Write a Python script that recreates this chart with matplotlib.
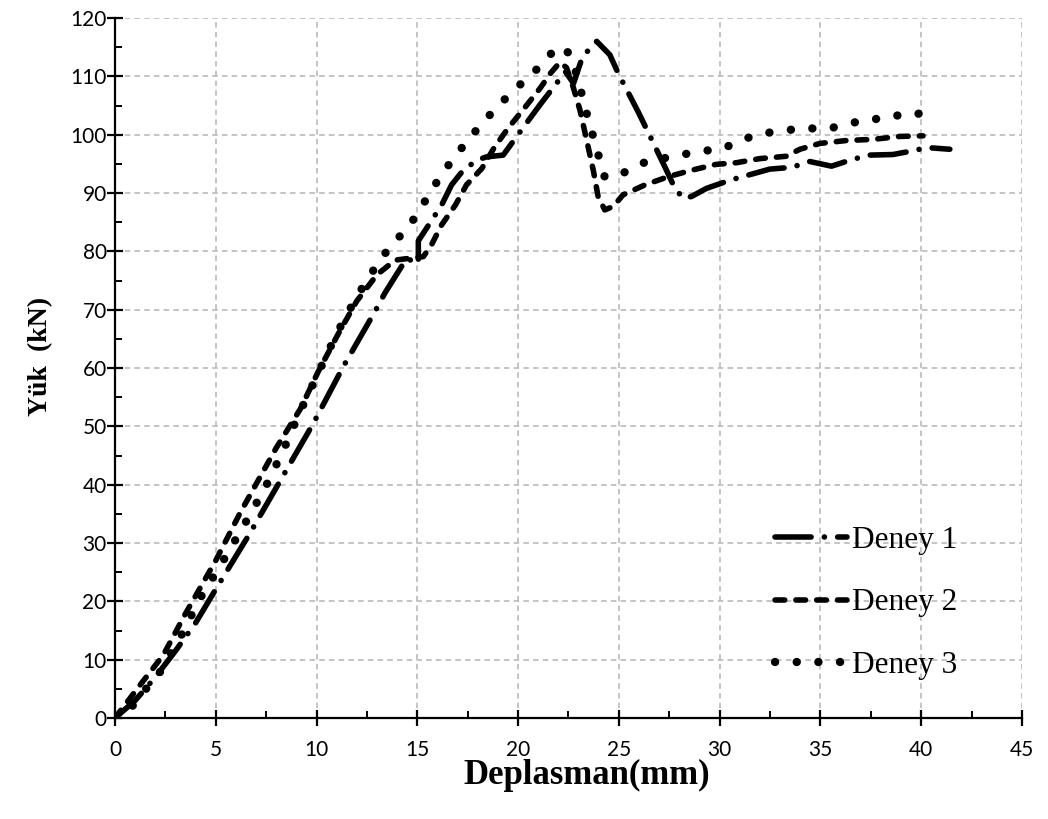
import numpy as np
import matplotlib
matplotlib.use("Agg")
import matplotlib.pyplot as plt
from matplotlib.ticker import MultipleLocator

# deney verileri
deney1_x = [0, 1.0, 2.0, 3.0, 4.0, 5.04, 6.7, 8.27, 9.84, 11.32, 12.9, 13.4, 14.47,
            15.05, 15.05, 16.2, 16.7, 17.3, 18.0, 18.44, 19.26, 20.42, 21.08, 22.35,
            22.75, 23.2, 23.9, 24.55, 24.97, 25.96, 27.28, 27.78, 28.19, 28.6, 29.35,
            30.51, 32.49, 33.57, 34.47, 35.55, 36.62, 37.45, 38.6, 39.68, 40.26, 41.42]
deney1_y = [0, 3.0, 7.0, 11.5, 16.3, 22.3, 31.7, 41.1, 50.5, 60.2, 69.7, 72.9, 78.8,
            77.9, 81.8, 87.9, 91.4, 94.0, 95.7, 96.2, 96.5, 102.0, 105.1, 110.8,
            108.8, 113.4, 116.0, 113.7, 110.5, 103.9, 94.5, 90.8, 89.1, 89.4, 90.8,
            92.2, 94.1, 94.4, 95.4, 94.6, 95.8, 96.5, 96.6, 97.3, 97.8, 97.5]

deney2_x = [0, 1.3, 2.4, 3.5, 5.0, 6.2, 8.0, 9.2, 10.1, 11.1, 12.0, 13.0, 13.9, 14.6,
            15.3, 15.7, 16.2, 16.9, 17.44, 18.2, 18.8, 19.5, 20.3, 21.1, 21.6, 22.07,
            22.4, 22.73, 23.07, 23.4, 23.73, 23.97, 24.3, 24.72, 25.21, 26.3, 27.45,
            28.6, 29.8, 30.84, 32.0, 33.3, 33.98, 34.97, 36.29, 37.61, 38.94, 40.09]
deney2_y = [0, 5.9, 10.8, 17.9, 27.0, 35.1, 46.3, 53.0, 59.5, 66.0, 71.5, 76.0, 78.5, 78.8,
            79.1, 81.1, 84.5, 88.0, 91.4, 94.2, 97.7, 101.1, 104.5, 108.0, 110.5, 112.4,
            111.5, 108.2, 104.2, 99.1, 93.9, 89.4, 87.1, 87.7, 89.7, 91.4, 92.8,
            93.9, 94.9, 95.2, 95.9, 96.3, 97.5, 98.5, 99.0, 99.2, 99.7, 99.8]

deney3_x = [0, 0.83, 1.49, 2.15, 3.22, 4.22, 5.29, 6.36, 7.44, 8.35, 9.18, 10.08, 11.0,
            11.99, 13.14, 13.8, 14.55, 15.13, 16.24, 17.53, 18.93, 19.71, 20.47, 21.25,
            21.91, 22.54, 22.9, 23.43, 24.01, 24.3, 25.05, 26.01, 27.0, 28.03, 29.07,
            30.09, 31.09, 32.04, 33.1, 34.14, 35.22, 36.24, 37.25, 38.31, 39.35, 40.38]
deney3_y = [0, 1.9, 4.8, 7.4, 13.7, 20.5, 26.5, 32.8, 39.4, 45.9, 52.5, 59.1, 65.9,
            72.2, 78.5, 81.4, 84.1, 87.2, 93.4, 99.2, 104.7, 107.3, 109.8, 112.2,
            115.1, 114.0, 110.4, 103.3, 96.2, 92.7, 93.1, 95.0, 95.8, 96.5, 97.2,
            97.5, 99.1, 100.2, 100.6, 101.2, 100.9, 101.7, 102.6, 102.8, 103.8, 103.4]

etiketler = ["Deney 1", "Deney 2", "Deney 3"]

plt.rcParams['lines.scale_dashes'] = False
plt.rcParams['font.family'] = ['Lato', 'DejaVu Sans']

fig = plt.figure(figsize=(10.48, 8.19), dpi=100)
ax = fig.add_axes([0.1097, 0.1233, 0.8655, 0.8547])

ax.plot(deney1_x, deney1_y, color='black', lw=4, dashes=[26, 9.5, 0.1, 9.5],
        dash_capstyle='round', solid_capstyle='round', label=etiketler[0], zorder=3)
ax.plot(deney2_x, deney2_y, color='black', lw=4, dashes=[7, 8],
        dash_capstyle='round', label=etiketler[1], zorder=3)
ax.plot(deney3_x, deney3_y, color='black', lw=6, dashes=[0.1, 15.5],
        dash_capstyle='round', label=etiketler[2], zorder=3)

ax.set_xlim(0, 45)
ax.set_ylim(0, 120)
ax.xaxis.set_major_locator(MultipleLocator(5))
ax.xaxis.set_minor_locator(MultipleLocator(2.5))
ax.yaxis.set_major_locator(MultipleLocator(10))
ax.yaxis.set_minor_locator(MultipleLocator(5))

ax.grid(which='major', color='#bfbfbf', lw=1.3, linestyle=(0, (4, 3)), zorder=0)
ax.set_axisbelow(True)

for s in ['top', 'right']:
    ax.spines[s].set_visible(False)
for s in ['left', 'bottom']:
    ax.spines[s].set_linewidth(1.6)

ax.tick_params(which='major', direction='inout', length=11, width=1.6, labelsize=15, pad=0.5)
ax.tick_params(which='minor', direction='in', length=5, width=1.4)
ax.tick_params(axis='x', which='major', pad=10)

ax.set_xlabel('Deplasman(mm)', fontfamily='Liberation Serif', fontweight='bold',
              fontsize=25)
ax.set_ylabel('Yük  (kN)', fontfamily='Liberation Serif', fontweight='bold',
              fontsize=20)
ax.xaxis.set_label_coords(0.52, -0.058)
ax.yaxis.set_label_coords(-0.068, 0.517)

leg = ax.legend(loc='upper left', bbox_to_anchor=(0.711, 0.297), frameon=False,
                prop={'family': 'Liberation Serif', 'size': 22.5},
                handlelength=2.3, handletextpad=0.15, labelspacing=1.08, borderpad=0)

fig.savefig('out.png', dpi=100)
